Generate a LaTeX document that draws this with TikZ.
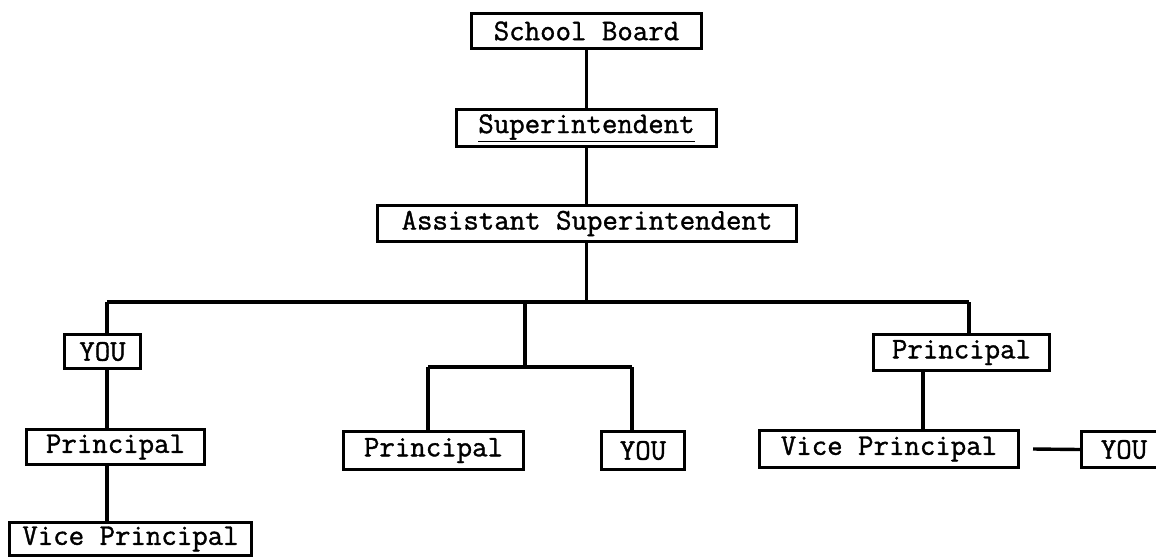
\documentclass[tikz,border=0pt]{standalone}
\usepackage{fontspec}
\setmonofont[FakeBold=1.2]{Latin Modern Mono}
\tikzset{
  post/.style={draw,line width=3pt,inner sep=0pt,anchor=north west,
    font=\ttfamily\fontsize{30}{34}\selectfont},
  link/.style={line width=3.4pt}
}
\begin{document}
\begin{tikzpicture}[x=1pt,y=-1pt]
                \clip (0,0) rectangle (1156,558);
                \node[post,minimum width=230,minimum height=35] (board) at (470,12) {School Board};
                \node[post,minimum width=260,minimum height=37] (supt) at (455,108) {\underline{Superintendent}};
                \node[post,minimum width=419,minimum height=36] (asst) at (376,204) {Assistant Superintendent};
                \node[post,minimum width=76,minimum height=34] (youA) at (63,333) {YOU};
                \node[post,minimum width=178,minimum height=35] (prinA) at (25,428) {Principal};
                \node[post,minimum width=242,minimum height=33] (viceA) at (8,521) {Vice Principal};
                \node[post,minimum width=180,minimum height=38] (prinB) at (342,430) {Principal};
                \node[post,minimum width=83,minimum height=38] (youB) at (600,430) {YOU};
                \node[post,minimum width=176,minimum height=36] (prinC) at (872,333) {Principal};
                \node[post,minimum width=259,minimum height=37] (viceC) at (758,429) {Vice Principal};
                \node[post,minimum width=85,minimum height=36] (youC) at (1080,430) {YOU};
                \coordinate (barL) at (107,302);
                \coordinate (barR) at (969,302);
                \coordinate (midJ) at (525,302);
                \coordinate (subL) at (428,367);
                \coordinate (subR) at (632,367);
                \coordinate (dropC) at (923,369);
                \draw[link] (board.south) -- (board.south |- supt.north);
                \draw[link] (board.south |- supt.south) -- (board.south |- asst.north);
                \draw[link] (board.south |- asst.south) -- (board.south |- barL);
                \draw[link] (barL) -- (barR);
                \draw[link] (barL) -- (barL |- youA.north);
                \draw[link] (barL |- youA.south) -- (barL |- prinA.north);
                \draw[link] (barL |- prinA.south) -- (barL |- viceA.north);
                \draw[link] (midJ) -- (midJ |- subL);
                \draw[link] (subL) -- (subR);
                \draw[link] (subL) -- (subL |- prinB.north);
                \draw[link] (subR) -- (subR |- youB.north);
                \draw[link] (barR) -- (barR |- prinC.north);
                \draw[link] (dropC) -- (dropC |- viceC.north);
                \draw[link] ([xshift=13pt]viceC.east) -- (youC.west);
            \end{tikzpicture}
\end{document}
